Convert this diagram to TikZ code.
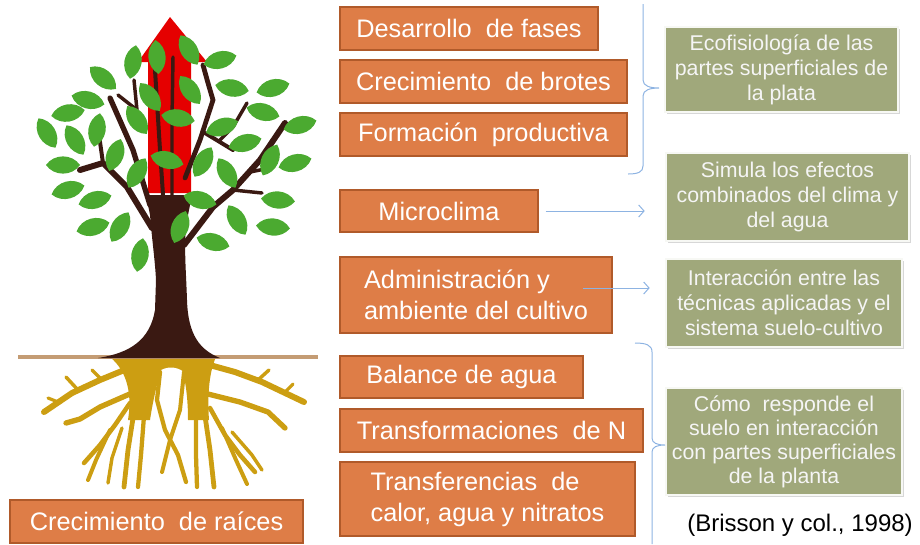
\documentclass[tikz,border=0pt]{standalone}
\usepackage{fontspec}
\setmainfont{Liberation Sans}
\usetikzlibrary{arrows.meta,shadows,calc}

\definecolor{boxorange}{HTML}{DE7D47}
\definecolor{boxorangeedge}{HTML}{B05A2A}
\definecolor{boxolive}{HTML}{A0A87B}
\definecolor{boxoliveedge}{HTML}{858D63}
\definecolor{linkblue}{HTML}{8DB3E2}
\definecolor{leafgreen}{HTML}{4BAA30}
\definecolor{barkbrown}{HTML}{3A1912}
\definecolor{rootgold}{HTML}{CC9E12}
\definecolor{groundtan}{HTML}{C49C74}
\definecolor{growred}{HTML}{E50000}

\tikzset{
  obox/.style={draw=boxorangeedge, line width=0.8pt, fill=boxorange, text=white,
    font=\fontsize{19}{23.25}\selectfont, align=left, inner sep=2pt},
  gbox/.style={draw=boxoliveedge, line width=0.45pt, double=white!92!boxolive, double distance=1pt,
    fill=boxolive, text=white!96!black, font=\fontsize{16}{18.75}\selectfont, align=center, inner sep=2pt,
    drop shadow={opacity=0.35, shadow xshift=1.2pt, shadow yshift=-1.8pt, fill=black!45}},
  link/.style={draw=linkblue, line width=0.75pt, -{Straight Barb[length=4pt,width=9pt]}},
  bracket/.style={draw=linkblue, line width=0.75pt},
  branch/.style={draw=barkbrown, line cap=round, line join=round},
  rootline/.style={draw=rootgold, line cap=round, line join=round},
  leaf/.pic={\fill[leafgreen] (-17,0) .. controls (-9,11.5) and (9,11.5) .. (17,0)
                               .. controls (9,-11.5) and (-9,-11.5) .. (-17,0);}
}

\begin{document}
\begin{tikzpicture}[x=0.75pt,y=-0.75pt]
\useasboundingbox (0,0) rectangle (920,544);

% ---------- tree: growth arrow ----------
\fill[growred] (170,17) -- (207,62) -- (191,62) -- (191,193) -- (148,193) -- (148,62) -- (138,62) -- cycle;

% ---------- roots ----------
% root crown below the soil line, open in the middle
\fill[rootgold] (110,357) -- (216,357) .. controls (210,370) and (207,392) .. (209,420) -- (188,420)
  .. controls (188,400) and (186,385) .. (183,372) -- (160,372) .. controls (157,385) and (153,400) .. (150,420)
  -- (128,420) .. controls (132,395) and (128,372) .. (110,357) -- cycle;
\fill[white] (158,372) .. controls (166,366) and (176,366) .. (184,372) .. controls (184,400) and (178,425) .. (173,445)
  .. controls (166,425) and (158,400) .. (158,372) -- cycle;
\draw[rootline, line width=4.5pt] (134,366) -- (100,380) -- (72,393) -- (44,412);
\draw[rootline, line width=2.6pt] (78,390) -- (66,377);
\draw[rootline, line width=2.6pt] (102,380) -- (92,370);
\draw[rootline, line width=2.4pt] (58,402) -- (48,398);
\draw[rootline, line width=4pt] (132,393) -- (100,407) -- (80,419) -- (66,423);
\draw[rootline, line width=3.4pt] (130,403) -- (115,425) -- (100,445) -- (84,463);
\draw[rootline, line width=3.6pt] (134,412) -- (128,450) -- (124,487);
\draw[rootline, line width=3.2pt] (144,416) -- (141,455) -- (138,487);
\draw[rootline, line width=3pt] (110,430) -- (96,460) -- (88,480);
\draw[rootline, line width=2.6pt] (122,428) -- (112,458) -- (108,483);
\draw[rootline, line width=3.2pt] (160,372) -- (157,400) -- (165,430) -- (178,455) -- (186,482);
\draw[rootline, line width=3pt] (184,372) -- (180,410) -- (170,440) -- (162,472);
\draw[rootline, line width=4.5pt] (206,364) -- (235,372) -- (262,382) -- (304,402);
\draw[rootline, line width=2.6pt] (258,380) -- (269,370);
\draw[rootline, line width=2.4pt] (285,392) -- (293,384);
\draw[rootline, line width=4pt] (208,394) -- (240,402) -- (268,412) -- (285,428);
\draw[rootline, line width=3.4pt] (210,408) -- (225,435) -- (240,455) -- (255,472);
\draw[rootline, line width=3.6pt] (205,416) -- (210,450) -- (214,487);
\draw[rootline, line width=3.2pt] (196,418) -- (196,455) -- (197,487);
\draw[rootline, line width=3pt] (222,428) -- (236,460) -- (247,484);
\draw[rootline, line width=2.6pt] (232,432) -- (252,455) -- (262,470);

% ---------- ground ----------
\draw[groundtan, line width=2.4pt] (18,357) -- (318,357);

% ---------- trunk and branches ----------
\fill[barkbrown] (98,358) .. controls (130,353) and (150,340) .. (155,310) -- (156,280)
  .. controls (155,260) and (152,240) .. (150,215) -- (146,195) -- (192,195) -- (186,225)
  .. controls (184,250) and (186,270) .. (187,300) .. controls (188,335) and (200,350) .. (220,358) -- cycle;
\draw[branch, line width=4.5pt] (152,228) -- (127,187) -- (103,163) -- (80,170);
\draw[branch, line width=3pt] (103,163) -- (98,128);
\draw[branch, line width=4pt] (150,205) -- (133,150) -- (110,98);
\draw[branch, line width=2.6pt] (118,95) -- (137,110) -- (134,80);
\draw[branch, line width=3pt] (163,195) -- (160,150) -- (155,70);
\draw[branch, line width=2.6pt] (172,195) -- (172,120) -- (173,57);
\draw[branch, line width=3.6pt] (185,178) -- (200,140) -- (213,100) -- (208,83) -- (203,65);
\draw[branch, line width=4.5pt] (184,245) -- (213,207) -- (233,190) -- (260,160) -- (285,123);
\draw[branch, line width=2.6pt] (233,190) -- (262,193);
\draw[branch, line width=2.6pt] (250,172) -- (270,168);
\draw[branch, line width=3pt] (205,133) -- (233,150);
\draw[branch, line width=2.6pt] (220,140) -- (233,127) -- (247,103);

% ---------- leaves ----------
\foreach \lx/\ly/\la in {
  133/62/80, 157/57/95, 189/50/120, 220/60/15, 103/78/140, 88/100/165, 68/113/10,
  150/97/125, 190/90/125, 232/88/170, 273/88/15, 47/133/120, 75/140/120, 97/130/80,
  137/120/125, 178/118/170, 222/127/20, 263/112/165, 300/125/15, 63/165/0,
  115/155/70, 167/160/165, 203/162/60, 245/143/15, 270/160/65, 295/163/15,
  68/190/15, 95/200/15, 137/173/60, 200/200/165, 227/173/120, 278/200/175,
  93/227/15, 120/227/60, 180/227/70, 237/220/120, 273/227/175, 140/255/80, 213/242/165}
  \pic[rotate=\la] at (\lx,\ly) {leaf};

% ---------- process boxes ----------
\node[obox, minimum width=193.5pt, minimum height=32.25pt] (fases)  at (469,28.5)   {Desarrollo\ \ de fases};
\node[obox, minimum width=215.25pt, minimum height=32.25pt] (brotes) at (483.5,81.5) {Crecimiento\ \ de brotes};
\node[obox, minimum width=215.25pt, minimum height=32.25pt] (prod)   at (483.5,134.5){Formación\ \ productiva};
\node[obox, minimum width=148.5pt, minimum height=31.5pt] (micro)    at (439,211)    {Microclima};
\node[obox, minimum width=204pt, minimum height=57pt] (adm)          at (476,295)    {Administración y\\ambiente del cultivo};
\node[obox, minimum width=182.25pt, minimum height=31.5pt] (agua)    at (461.5,377)  {Balance de agua};
\node[obox, minimum width=227.25pt, minimum height=32.25pt] (nitro)  at (491.5,430.5){Transformaciones\ \ de N};
\node[obox, minimum width=221.25pt, minimum height=55.5pt] (transf)  at (487.5,499)  {Transferencias\ \ de\\calor, agua y nitratos};
\node[obox, minimum width=219.75pt, minimum height=32.25pt] (raices) at (156.5,521.5){Crecimiento\ \ de raíces};

% ---------- description boxes ----------
\node[gbox, minimum width=174.75pt, minimum height=63.75pt] (eco)    at (781.5,69.5) {Ecofisiología de las\\partes superficiales de\\la plata};
\node[gbox, minimum width=182.25pt, minimum height=66pt] (simula)    at (787.5,197)  {Simula los efectos\\combinados del clima y\\del agua};
\node[gbox, minimum width=177pt, minimum height=66pt] (interac)      at (784,303)    {Interacción entre las\\técnicas aplicadas y el\\sistema suelo-cultivo};
\node[gbox, minimum width=177pt, minimum height=80.25pt, font=\fontsize{16}{18}\selectfont] (suelo) at (784,441.5) {Cómo\ \ responde el\\suelo en interacción\\con partes superficiales\\de la planta};

\node[font=\fontsize{18}{21}\selectfont, inner sep=0pt] (cita) at (800,525) {(Brisson y col., 1998)};

% ---------- connectors ----------
\draw[link, shorten <=5.25pt, shorten >=15.75pt] (micro.east) -- (micro.east -| simula.west);
\coordinate (admout) at (583,288);
\draw[link, shorten >=12pt] (admout) -- (admout -| interac.west);

% upper bracket grouping the three aerial processes
\draw[bracket] (643,4) -- (643,80) .. controls (643,86) and (650,88) .. (659,88)
  .. controls (650,88) and (643,90) .. (643,96) -- (643,166) .. controls (643,172) and (638,174) .. (628,174);
% lower bracket grouping the soil processes
\draw[bracket] (635,343) .. controls (646,343) and (652,345) .. (652,352) -- (652,438)
  .. controls (652,443) and (657,445) .. (665,445) .. controls (657,445) and (652,447) .. (652,452) -- (652,544);

\end{tikzpicture}
\end{document}
